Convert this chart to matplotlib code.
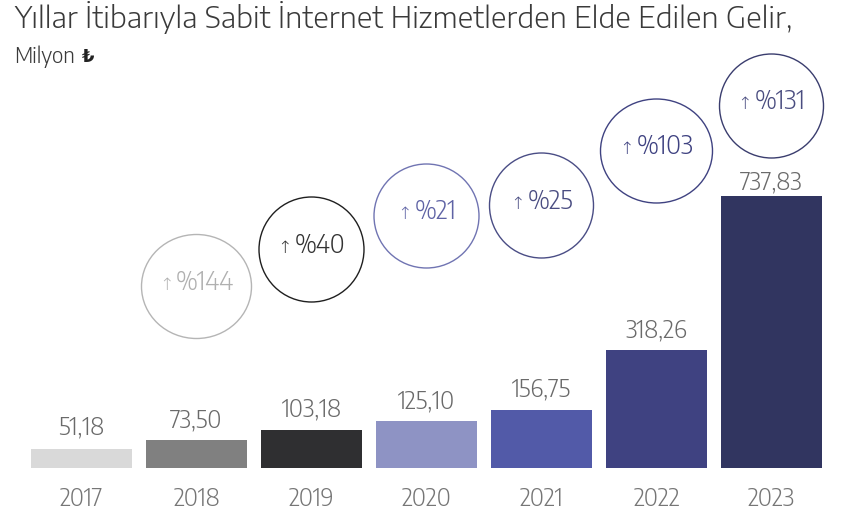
import matplotlib
matplotlib.use("Agg")
import matplotlib.pyplot as plt
from matplotlib.patches import Ellipse
from matplotlib.offsetbox import TextArea, HPacker, AnnotationBbox

# ---- data ----
years = ["2017", "2018", "2019", "2020", "2021", "2022", "2023"]
revenue = [51.18, 73.50, 103.18, 125.10, 156.75, 318.26, 737.83]
value_labels = ["51,18", "73,50", "103,18", "125,10", "156,75", "318,26", "737,83"]
growth_labels = [None, "%144", "%40", "%21", "%25", "%103", "%131"]

title = "Yıllar İtibarıyla Sabit İnternet Hizmetlerden Elde Edilen Gelir,"
subtitle = "Milyon"
currency = "₺"

# ---- style ----
bar_colors = ["#d9d9d9", "#808080", "#2f2f31", "#8e93c4", "#525aa8", "#3f4281", "#313560"]
circ_edge = [None, "#b5b5b5", "#1f1f1f", "#7074b2", "#4a4d85", "#3f4281", "#3a3d6e"]
circ_text = [None, "#b0b0b0", "#333333", "#5f63a5", "#4a4d82", "#3f4281", "#4a4d80"]
circ_center_px = [None, 286.5, 249.5, 216, 205.5, 151, 106]   # vertical centre, px from top
circ_rx_px = [None, 55, 52.5, 52.5, 52, 56, 52]
circ_ry_px = [None, 52, 52.5, 52, 52.5, 52, 52]
label_gap_pt = [10, 9.5, 9.5, 9.5, 9.5, 9, 5]

FONT = ["Encode Sans Semi Condensed", "DejaVu Sans"]
TFONT = ["Encode Sans Semi Expanded", "DejaVu Sans"]
W, H, DPI = 848, 522, 100
base_px = 467.5
k = revenue[-1] / (base_px - 196.0)   # data units per pixel
step_px = 115.0
x0_px = 81.5

fig = plt.figure(figsize=(W / DPI, H / DPI), dpi=DPI)
ax = fig.add_axes([0, 0, 1, 1])
ax.set_xlim(-x0_px / step_px, (W - x0_px) / step_px)
ax.set_ylim(-(H - base_px) * k, base_px * k)
ax.axis("off")

x = list(range(len(years)))
ax.bar(x, revenue, width=101 / step_px, color=bar_colors, linewidth=0)

def py2y(py):
    return (base_px - py) * k

for i, (v, lab) in enumerate(zip(revenue, value_labels)):
    ax.annotate(lab, (i, v), xytext=(0, label_gap_pt[i]), textcoords="offset points",
                ha="center", va="baseline", fontsize=17.5, color="#6a6a6a",
                family=FONT, fontweight=300)
    ax.text(i, py2y(506), years[i], ha="center", va="baseline", fontsize=17.5,
            color="#767676", family=FONT, fontweight=300)

for i, g in enumerate(growth_labels):
    if g is None:
        continue
    cy = py2y(circ_center_px[i])
    e = Ellipse((i, cy), width=2 * circ_rx_px[i] / step_px, height=2 * circ_ry_px[i] * k,
                facecolor="none", edgecolor=circ_edge[i], linewidth=1.0)
    ax.add_patch(e)
    arrow = TextArea("↑", textprops=dict(fontsize=12.5, color=circ_text[i],
                                         family=["DejaVu Sans"], fontweight="light"))
    txt = TextArea(g, textprops=dict(fontsize=18.5, color=circ_text[i], family=FONT, fontweight=300))
    box = HPacker(children=[arrow, txt], align="baseline", pad=0, sep=2)
    ab = AnnotationBbox(box, (i, py2y(circ_center_px[i] - 4)), frameon=False,
                        box_alignment=(0.5, 0.5), pad=0)
    ax.add_artist(ab)

fig.text(14 / W, 1 - 28 / H, title, ha="left", va="baseline", fontsize=20.5,
         color="#3a3a3a", family=TFONT, fontweight=300)

sub = TextArea(subtitle, textprops=dict(fontsize=16, color="#3a3a3a", family=FONT, fontweight=300))
cur = TextArea(currency, textprops=dict(fontsize=13, color="#222222", family=["DejaVu Sans"],
                                        fontweight="bold"))
sbox = HPacker(children=[sub, cur], align="baseline", pad=0, sep=5)
sab = AnnotationBbox(sbox, (14, H - 63), xycoords="figure pixels", frameon=False,
                     box_alignment=(0, 0.2), pad=0)
fig.add_artist(sab)

fig.savefig("out.png", dpi=DPI, facecolor="white")
